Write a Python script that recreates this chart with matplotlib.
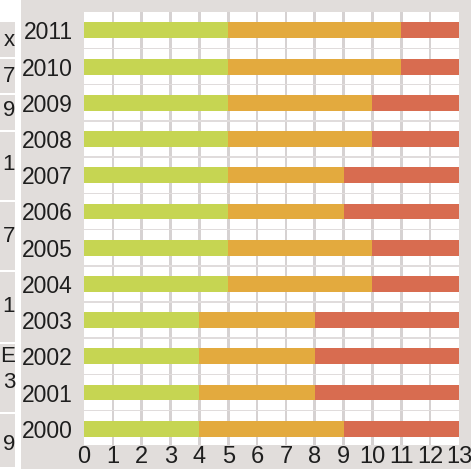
import matplotlib
matplotlib.use("Agg")
import matplotlib.pyplot as plt
import numpy as np

years = ["2000", "2001", "2002", "2003", "2004", "2005", "2006", "2007", "2008", "2009", "2010", "2011"]
green = [4, 4, 4, 4, 5, 5, 5, 5, 5, 5, 5, 5]
orange = [5, 4, 4, 4, 5, 5, 4, 4, 5, 5, 6, 6]
red = [4, 5, 5, 5, 3, 3, 4, 4, 3, 3, 2, 2]
xticks = list(range(0, 14))

side_labels = [("x", 40), ("7", 77), ("9", 111), ("1", 165), ("7", 236), ("1", 306), ("E", 357), ("3", 383), ("9", 445)]
side_cells = [(22, 57), (59, 93), (95, 130), (132, 200), (202, 270), (272, 342), (344, 412), (414, 467)]

W, H = 471, 469
fig = plt.figure(figsize=(W / 100, H / 100), dpi=100)
fig.patch.set_facecolor("white")

PANEL = "#e1dddb"
FONT = ["Liberation Sans", "DejaVu Sans"]
TXT = "#1e1e1e"

bg = fig.add_axes([0, 0, 1, 1], zorder=0)
bg.set_xlim(0, W)
bg.set_ylim(H, 0)
bg.axis("off")
bg.add_patch(plt.Rectangle((21, 0), W - 21, H, color=PANEL, lw=0))
for (y0, y1) in side_cells:
    bg.add_patch(plt.Rectangle((0, y0), 15, y1 - y0, color=PANEL, lw=0))
for (t, yy) in side_labels:
    bg.text(15, yy, t, ha="right", va="center", fontsize=16, family=FONT, color=TXT)

ax = fig.add_axes([84 / W, 1 - 445 / H, (459 - 84) / W, (445 - 12) / H], zorder=1)
ax.set_facecolor("white")
y = np.arange(len(years))
h = 0.44
left = np.zeros(len(years))
for vals, col in [(green, "#c6d552"), (orange, "#e3aa3e"), (red, "#d86c50")]:
    ax.barh(y, vals, left=left, height=h, color=col, zorder=3)
    left = left + np.array(vals)

ax.set_xlim(0, 13)
ax.set_ylim(-0.45, len(years) - 0.49)

# grid drawn as thin filled spans
gw = 0.045
for xv in xticks[1:-1]:
    ax.axvspan(xv - gw, xv + gw, color="#d6d2d2", lw=0, zorder=1)
gh = 0.02
for yv in np.arange(0.5, len(years) - 1, 1):
    ax.axhspan(yv - gh, yv + gh, color="#e0dcdc", lw=0, zorder=1)

ax.set_xticks(xticks)
ax.set_xticklabels([str(v) for v in xticks], fontsize=17, family=FONT, color=TXT)
ax.set_yticks(y)
ax.set_yticklabels(years, fontsize=16.5, family=FONT, color=TXT)
ax.tick_params(axis="both", which="major", length=0)
ax.tick_params(axis="y", pad=8)
ax.tick_params(axis="x", pad=1)
for s in ax.spines.values():
    s.set_visible(False)

fig.savefig("out.png", dpi=100, facecolor="white")
